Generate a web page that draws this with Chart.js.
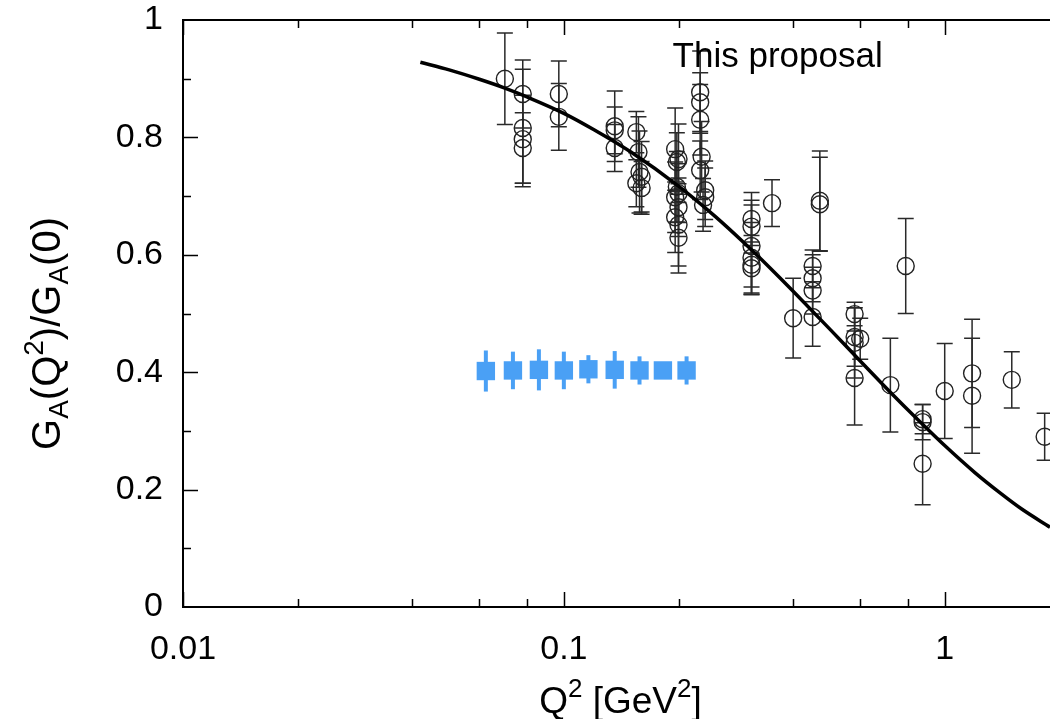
<!DOCTYPE html>
<html>
<head>
<meta charset="utf-8">
<script src="https://cdn.jsdelivr.net/npm/chart.js@4"></script>
<style>
  html, body { margin: 0; padding: 0; background: #fff; overflow: hidden; }
  canvas { display: block; }
</style>
</head>
<body>
<canvas id="chart" width="1050" height="719"></canvas>
<script>
// fit curve
var curveQ2 = [0.042, 0.05, 0.06, 0.07, 0.08, 0.1, 0.12, 0.15, 0.2, 0.25, 0.3, 0.35, 0.4, 0.5, 0.6, 0.7, 0.8, 1.0, 1.2, 1.4, 1.6, 1.89];
var curveGA = [0.928, 0.915, 0.899, 0.884, 0.869, 0.841, 0.813, 0.775, 0.717, 0.665, 0.618, 0.576, 0.538, 0.473, 0.419, 0.374, 0.336, 0.275, 0.229, 0.194, 0.166, 0.136];

// world data (open circles)
var dataQ2 = [0.070, 0.078, 0.078, 0.078, 0.078, 0.097, 0.097,
  0.136, 0.136, 0.136, 0.155, 0.157, 0.158, 0.160, 0.155, 0.160,
  0.196, 0.200, 0.198, 0.198, 0.200, 0.196, 0.200, 0.196, 0.200, 0.200,
  0.228, 0.228, 0.228, 0.230, 0.228, 0.235, 0.235, 0.232,
  0.352, 0.311, 0.311, 0.311, 0.311, 0.311, 0.311,
  0.47, 0.47, 0.45, 0.45, 0.45, 0.45, 0.40, 0.79,
  0.58, 0.58, 0.58, 0.60, 0.58, 0.72, 0.875, 0.875, 0.875,
  1.0, 1.18, 1.18, 1.5, 1.83];
var dataGA = [0.900, 0.874, 0.816, 0.797, 0.782, 0.874, 0.835,
  0.819, 0.812, 0.782, 0.809, 0.775, 0.741, 0.733, 0.722, 0.714,
  0.780, 0.763, 0.758, 0.716, 0.705, 0.698, 0.681, 0.664, 0.651, 0.629,
  0.877, 0.860, 0.830, 0.767, 0.744, 0.710, 0.698, 0.685,
  0.688, 0.661, 0.648, 0.615, 0.595, 0.583, 0.577,
  0.692, 0.686, 0.581, 0.560, 0.539, 0.494, 0.492, 0.581,
  0.499, 0.460, 0.450, 0.457, 0.390, 0.378, 0.320, 0.315, 0.244,
  0.368, 0.398, 0.360, 0.387, 0.290];
var dataErr = [0.078, 0.058, 0.100, 0.075, 0.060, 0.056, 0.057,
  0.060, 0.040, 0.040, 0.035, 0.060, 0.070, 0.060, 0.040, 0.045,
  0.070, 0.060, 0.050, 0.060, 0.050, 0.060, 0.050, 0.060, 0.070, 0.060,
  0.070, 0.050, 0.060, 0.060, 0.050, 0.050, 0.050, 0.045,
  0.040, 0.045, 0.045, 0.070, 0.060, 0.050, 0.045,
  0.085, 0.080, 0.027, 0.040, 0.040, 0.050, 0.068, 0.081,
  0.020, 0.050, 0.060, 0.035, 0.080, 0.080, 0.025, 0.030, 0.070,
  0.081, 0.092, 0.098, 0.048, 0.040];

// this proposal (blue squares)
var propQ2 = [0.0624, 0.0735, 0.086, 0.1, 0.116, 0.136, 0.158, 0.182, 0.21];
var propGA = [0.402, 0.403, 0.404, 0.403, 0.405, 0.404, 0.403, 0.403, 0.403];
var propErr = [0.035, 0.032, 0.035, 0.032, 0.024, 0.032, 0.024, 0, 0.024];

var xTicks = [0.01, 0.1, 1];
var xTickLabels = ['0.01', '0.1', '1'];
var yTickLabels = ['0', '0.2', '0.4', '0.6', '0.8', '1'];

var FONT = '"Liberation Sans", Arial, Helvetica, sans-serif';

function pts(xs, ys) {
  return xs.map(function (x, i) { return { x: x, y: ys[i] }; });
}

// text with sub/superscripts: parts = [[text, shift]] shift -1 sub, 1 sup
function richText(ctx, parts, size, x, y, align) {
  var small = Math.round(size * 0.7);
  var w = 0;
  parts.forEach(function (p) {
    ctx.font = (p[1] ? small : size) + 'px ' + FONT;
    w += ctx.measureText(p[0]).width;
  });
  var cx = align === 'center' ? x - w / 2 : x;
  ctx.textAlign = 'left';
  ctx.textBaseline = 'alphabetic';
  parts.forEach(function (p) {
    ctx.font = (p[1] ? small : size) + 'px ' + FONT;
    var dy = p[1] === 1 ? -size * 0.42 : (p[1] === -1 ? size * 0.2 : 0);
    ctx.fillText(p[0], cx, y + dy);
    cx += ctx.measureText(p[0]).width;
  });
}

var decor = {
  id: 'decor',
  beforeDatasetsDraw: function (chart) {
    var ctx = chart.ctx, xs = chart.scales.x, ys = chart.scales.y;
    ctx.save();
    // black error bars
    ctx.strokeStyle = '#2a2a2a';
    ctx.lineWidth = 1.5;
    dataQ2.forEach(function (q, i) {
      var px = xs.getPixelForValue(q);
      var top = ys.getPixelForValue(dataGA[i] + dataErr[i]);
      var bot = ys.getPixelForValue(dataGA[i] - dataErr[i]);
      ctx.beginPath();
      ctx.moveTo(px, top); ctx.lineTo(px, bot);
      ctx.moveTo(px - 8, top); ctx.lineTo(px + 8, top);
      ctx.moveTo(px - 8, bot); ctx.lineTo(px + 8, bot);
      ctx.stroke();
    });
    // blue error bars
    ctx.strokeStyle = 'rgb(74,160,245)';
    ctx.lineWidth = 4;
    propQ2.forEach(function (q, i) {
      if (!propErr[i]) return;
      var px = xs.getPixelForValue(q);
      ctx.beginPath();
      ctx.moveTo(px, ys.getPixelForValue(propGA[i] + propErr[i]));
      ctx.lineTo(px, ys.getPixelForValue(propGA[i] - propErr[i]));
      ctx.stroke();
    });
    ctx.restore();
  },
  afterDraw: function (chart) {
    var ctx = chart.ctx, a = chart.chartArea, xs = chart.scales.x, ys = chart.scales.y;
    ctx.save();
    ctx.strokeStyle = '#000';
    ctx.lineWidth = 2;
    // frame (right side falls off the canvas)
    ctx.beginPath();
    ctx.moveTo(a.right + 2, a.top);
    ctx.lineTo(a.left, a.top);
    ctx.lineTo(a.left, a.bottom);
    ctx.lineTo(a.right + 2, a.bottom);
    ctx.stroke();
    // inward ticks
    ctx.lineWidth = 1.5;
    ctx.beginPath();
    [0.01, 0.1, 1].forEach(function (d) {
      for (var k = 1; k <= 9; k++) {
        var v = d * (k === 1 ? 1 : (k % 2 === 0 ? k : 0));
        if (!v || v > xs.max) continue;
        var len = k === 1 ? 15 : 8;
        var px = Math.round(xs.getPixelForValue(v)) + 0.5;
        ctx.moveTo(px, a.bottom); ctx.lineTo(px, a.bottom - len);
        ctx.moveTo(px, a.top); ctx.lineTo(px, a.top + len);
      }
    });
    for (var j = 1; j < 10; j++) {
      var py = Math.round(ys.getPixelForValue(j / 10)) + 0.5;
      var l = j % 2 === 0 ? 15 : 8;
      ctx.moveTo(a.left, py); ctx.lineTo(a.left + l, py);
    }
    ctx.stroke();

    ctx.fillStyle = '#000';
    // x title
    richText(ctx, [['Q', 0], ['2', 1], [' [GeV', 0], ['2', 1], [']', 0]], 37,
      (a.left + a.right) / 2 + 4, 713, 'center');
    // y title, rotated
    ctx.save();
    ctx.translate(60, (a.top + a.bottom) / 2 + 20);
    ctx.rotate(-Math.PI / 2);
    richText(ctx, [['G', 0], ['A', -1], ['(Q', 0], ['2', 1], [')/G', 0], ['A', -1], ['(0)', 0]], 40, 0, 0, 'center');
    ctx.restore();
    // annotation
    ctx.font = '35px ' + FONT;
    ctx.textAlign = 'left';
    ctx.textBaseline = 'alphabetic';
    ctx.fillText('This proposal', xs.getPixelForValue(0.193), ys.getPixelForValue(0.92));
    ctx.restore();
  }
};

new Chart(document.getElementById('chart'), {
  type: 'scatter',
  data: {
    datasets: [
      {
        label: 'fit',
        data: pts(curveQ2, curveGA),
        showLine: true,
        borderColor: '#000',
        borderWidth: 3.5,
        pointRadius: 0,
        cubicInterpolationMode: 'monotone',
        fill: false
      },
      {
        label: 'data',
        data: pts(dataQ2, dataGA),
        pointStyle: 'circle',
        pointRadius: 8.5,
        borderWidth: 1.4,
        borderColor: '#222',
        backgroundColor: 'rgba(0,0,0,0)'
      },
      {
        label: 'This proposal',
        data: pts(propQ2, propGA),
        pointStyle: 'rect',
        pointRadius: 13,
        borderWidth: 0,
        backgroundColor: 'rgb(74,160,245)'
      }
    ]
  },
  options: {
    responsive: false,
    animation: false,
    events: [],
    layout: { autoPadding: false, padding: { top: 20, right: 0, left: 0, bottom: 0 } },
    plugins: {
      legend: { display: false },
      tooltip: { enabled: false }
    },
    scales: {
      x: {
        type: 'logarithmic',
        min: 0.01,
        max: 1.89,
        grid: { display: false, drawTicks: false },
        border: { display: false },
        afterBuildTicks: function (s) {
          s.ticks = xTicks.map(function (v) { return { value: v }; });
        },
        afterFit: function (s) {
          s.height = 112;
          s.paddingLeft = 0; s.paddingRight = 0;
        },
        ticks: {
          autoSkip: false,
          maxRotation: 0,
          padding: 22,
          color: '#000',
          font: { family: FONT, size: 34 },
          callback: function (v) {
            var i = xTicks.indexOf(v);
            return i >= 0 ? xTickLabels[i] : '';
          }
        }
      },
      y: {
        min: 0,
        max: 1,
        grid: { display: false, drawTicks: false },
        border: { display: false },
        afterFit: function (s) {
          s.width = 183;
          s.paddingTop = 0; s.paddingBottom = 0;
        },
        ticks: {
          stepSize: 0.2,
          padding: 20,
          color: '#000',
          font: { family: FONT, size: 34 },
          callback: function (v) {
            return yTickLabels[Math.round(v * 5)];
          }
        }
      }
    }
  },
  plugins: [decor]
});
</script>
</body>
</html>
